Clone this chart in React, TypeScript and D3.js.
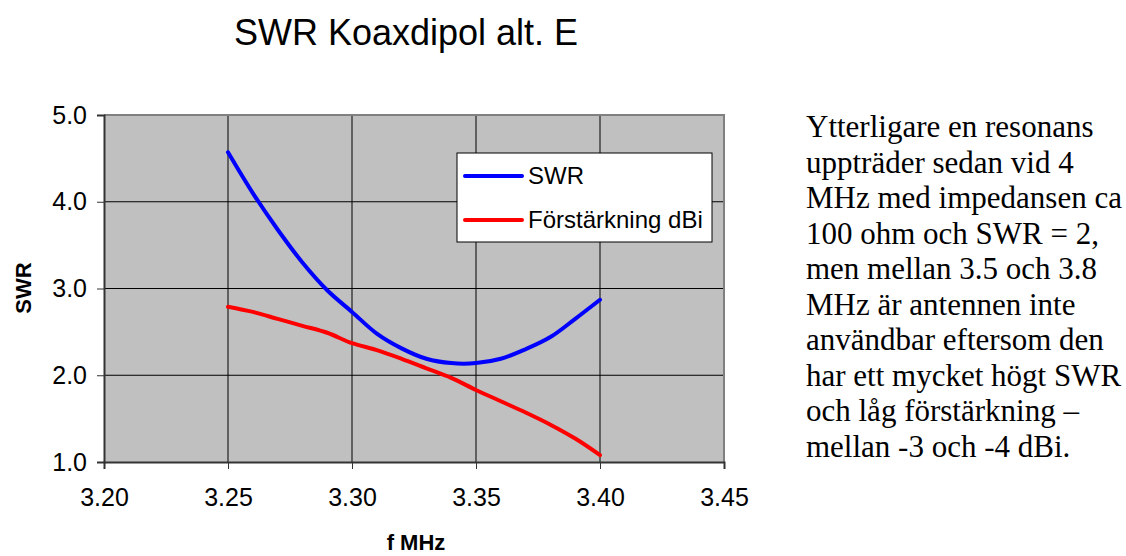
import React, { useEffect, useRef } from "react";
import * as d3 from "d3";

// frequencies in MHz
const freqs = [3.25, 3.26, 3.27, 3.28, 3.29, 3.3, 3.31, 3.32, 3.33, 3.34, 3.35, 3.36, 3.37, 3.38, 3.39, 3.4];
const swr = [4.57, 4.1, 3.68, 3.3, 2.98, 2.73, 2.48, 2.31, 2.19, 2.14, 2.14, 2.19, 2.3, 2.44, 2.65, 2.87];
const gain = [2.79, 2.73, 2.65, 2.57, 2.49, 2.37, 2.29, 2.19, 2.08, 1.97, 1.83, 1.7, 1.57, 1.43, 1.27, 1.08];
const xTicks = [3.2, 3.25, 3.3, 3.35, 3.4, 3.45];
const yTicks = [1, 2, 3, 4, 5];
const seriesNames = ["SWR", "Förstärkning dBi"];
const noteLines = [
  "Ytterligare en resonans",
  "uppträder sedan vid 4",
  "MHz med impedansen ca",
  "100 ohm och SWR = 2,",
  "men mellan 3.5 och 3.8",
  "MHz är antennen inte",
  "användbar eftersom den",
  "har ett mycket högt SWR",
  "och låg förstärkning –",
  "mellan -3 och -4 dBi.",
];

export default function App() {
  const ref = useRef<SVGSVGElement>(null);

  useEffect(() => {
    draw();
  }, []);

  let draw = () => {
    const svg = d3.select(ref.current);
    svg.selectAll("*").remove();

    const sans = "Arial, 'Liberation Sans', Helvetica, sans-serif";
    const plot = { left: 104, right: 724, top: 115, bottom: 462 };

    const x = d3.scaleLinear().domain([3.2, 3.45]).range([plot.left, plot.right]);
    const y = d3.scaleLinear().domain([1, 5]).range([plot.bottom, plot.top]);

    // title
    svg
      .append("text")
      .attr("x", 406)
      .attr("y", 45)
      .attr("text-anchor", "middle")
      .style("font-family", sans)
      .style("font-size", "36px")
      .text("SWR Koaxdipol alt. E");

    // plot background
    svg
      .append("rect")
      .attr("x", plot.left)
      .attr("y", plot.top)
      .attr("width", plot.right - plot.left)
      .attr("height", plot.bottom - plot.top)
      .attr("fill", "#c0c0c0");

    // grid
    svg
      .append("g")
      .selectAll("line")
      .data(xTicks.slice(1, -1))
      .enter()
      .append("line")
      .attr("x1", (d) => x(d))
      .attr("x2", (d) => x(d))
      .attr("y1", plot.top)
      .attr("y2", plot.bottom)
      .attr("stroke", "#000")
      .attr("stroke-width", 1);

    svg
      .append("g")
      .selectAll("line")
      .data(yTicks.slice(1, -1))
      .enter()
      .append("line")
      .attr("x1", plot.left)
      .attr("x2", plot.right)
      .attr("y1", (d) => y(d))
      .attr("y2", (d) => y(d))
      .attr("stroke", "#000")
      .attr("stroke-width", 1);

    // top and right frame
    svg
      .append("path")
      .attr("d", `M${plot.left},${plot.top}H${plot.right}V${plot.bottom}`)
      .attr("fill", "none")
      .attr("stroke", "#808080")
      .attr("stroke-width", 2);

    // axes
    const xAxis = svg
      .append("g")
      .attr("transform", `translate(0, ${plot.bottom})`)
      .call(
        d3
          .axisBottom(x)
          .tickValues(xTicks)
          .tickFormat((d) => d3.format(".2f")(Number(d)))
          .tickSize(7)
          .tickPadding(19)
      );
    xAxis.select(".domain").attr("stroke", "#333").attr("stroke-width", 2);
    xAxis.selectAll(".tick line").attr("stroke", "#333");
    xAxis
      .selectAll("text")
      .attr("fill", "#000")
      .style("font-family", sans)
      .style("font-size", "25px");

    const yAxis = svg
      .append("g")
      .attr("transform", `translate(${plot.left}, 0)`)
      .call(
        d3
          .axisLeft(y)
          .tickValues(yTicks)
          .tickFormat((d) => d3.format(".1f")(Number(d)))
          .tickSize(7)
          .tickPadding(10)
      );
    yAxis.select(".domain").attr("stroke", "#333").attr("stroke-width", 2);
    yAxis.selectAll(".tick line").attr("stroke", "#333");
    yAxis
      .selectAll("text")
      .attr("fill", "#000")
      .style("font-family", sans)
      .style("font-size", "25px");

    // axis titles
    svg
      .append("text")
      .attr("transform", "translate(31, 288) rotate(-90)")
      .attr("text-anchor", "middle")
      .style("font-family", sans)
      .style("font-weight", "bold")
      .style("font-size", "22px")
      .text("SWR");

    svg
      .append("text")
      .attr("x", 416)
      .attr("y", 550)
      .attr("text-anchor", "middle")
      .style("font-family", sans)
      .style("font-weight", "bold")
      .style("font-size", "22px")
      .text("f MHz");

    // series
    const line = d3
      .line<number>()
      .x((d, i) => x(freqs[i]))
      .y((d) => y(d))
      .curve(d3.curveCatmullRom.alpha(0.5));

    svg
      .append("path")
      .attr("d", line(swr))
      .attr("fill", "none")
      .attr("stroke", "#0000ff")
      .attr("stroke-width", 4)
      .attr("stroke-linecap", "round")
      .attr("stroke-linejoin", "round");

    svg
      .append("path")
      .attr("d", line(gain))
      .attr("fill", "none")
      .attr("stroke", "#ff0000")
      .attr("stroke-width", 4)
      .attr("stroke-linecap", "round")
      .attr("stroke-linejoin", "round");

    // legend
    const legend = svg.append("g").attr("transform", "translate(457, 153)");
    legend
      .append("rect")
      .attr("width", 255)
      .attr("height", 89)
      .attr("fill", "#fff")
      .attr("stroke", "#000")
      .attr("stroke-width", 1);

    const colors = ["#0000ff", "#ff0000"];
    seriesNames.forEach((name, i) => {
      legend
        .append("line")
        .attr("x1", 8)
        .attr("x2", 65)
        .attr("y1", 23 + i * 44)
        .attr("y2", 23 + i * 44)
        .attr("stroke", colors[i])
        .attr("stroke-width", 4)
        .attr("stroke-linecap", "round");
      legend
        .append("text")
        .attr("x", 71)
        .attr("y", 23 + i * 44)
        .attr("dy", "0.35em")
        .style("font-family", sans)
        .style("font-size", "24px")
        .text(name);
    });

    // note on the right
    svg
      .append("g")
      .selectAll("text")
      .data(noteLines)
      .enter()
      .append("text")
      .attr("x", 806)
      .attr("y", (d, i) => 137 + i * 35.5)
      .style("font-family", "'Times New Roman', 'Liberation Serif', serif")
      .style("font-size", "31px")
      .text((d) => d);
  };

  return (
    <svg
      ref={ref}
      width={1126}
      height={556}
      style={{ position: "absolute", left: 0, top: 0, background: "#fff" }}
    ></svg>
  );
}
